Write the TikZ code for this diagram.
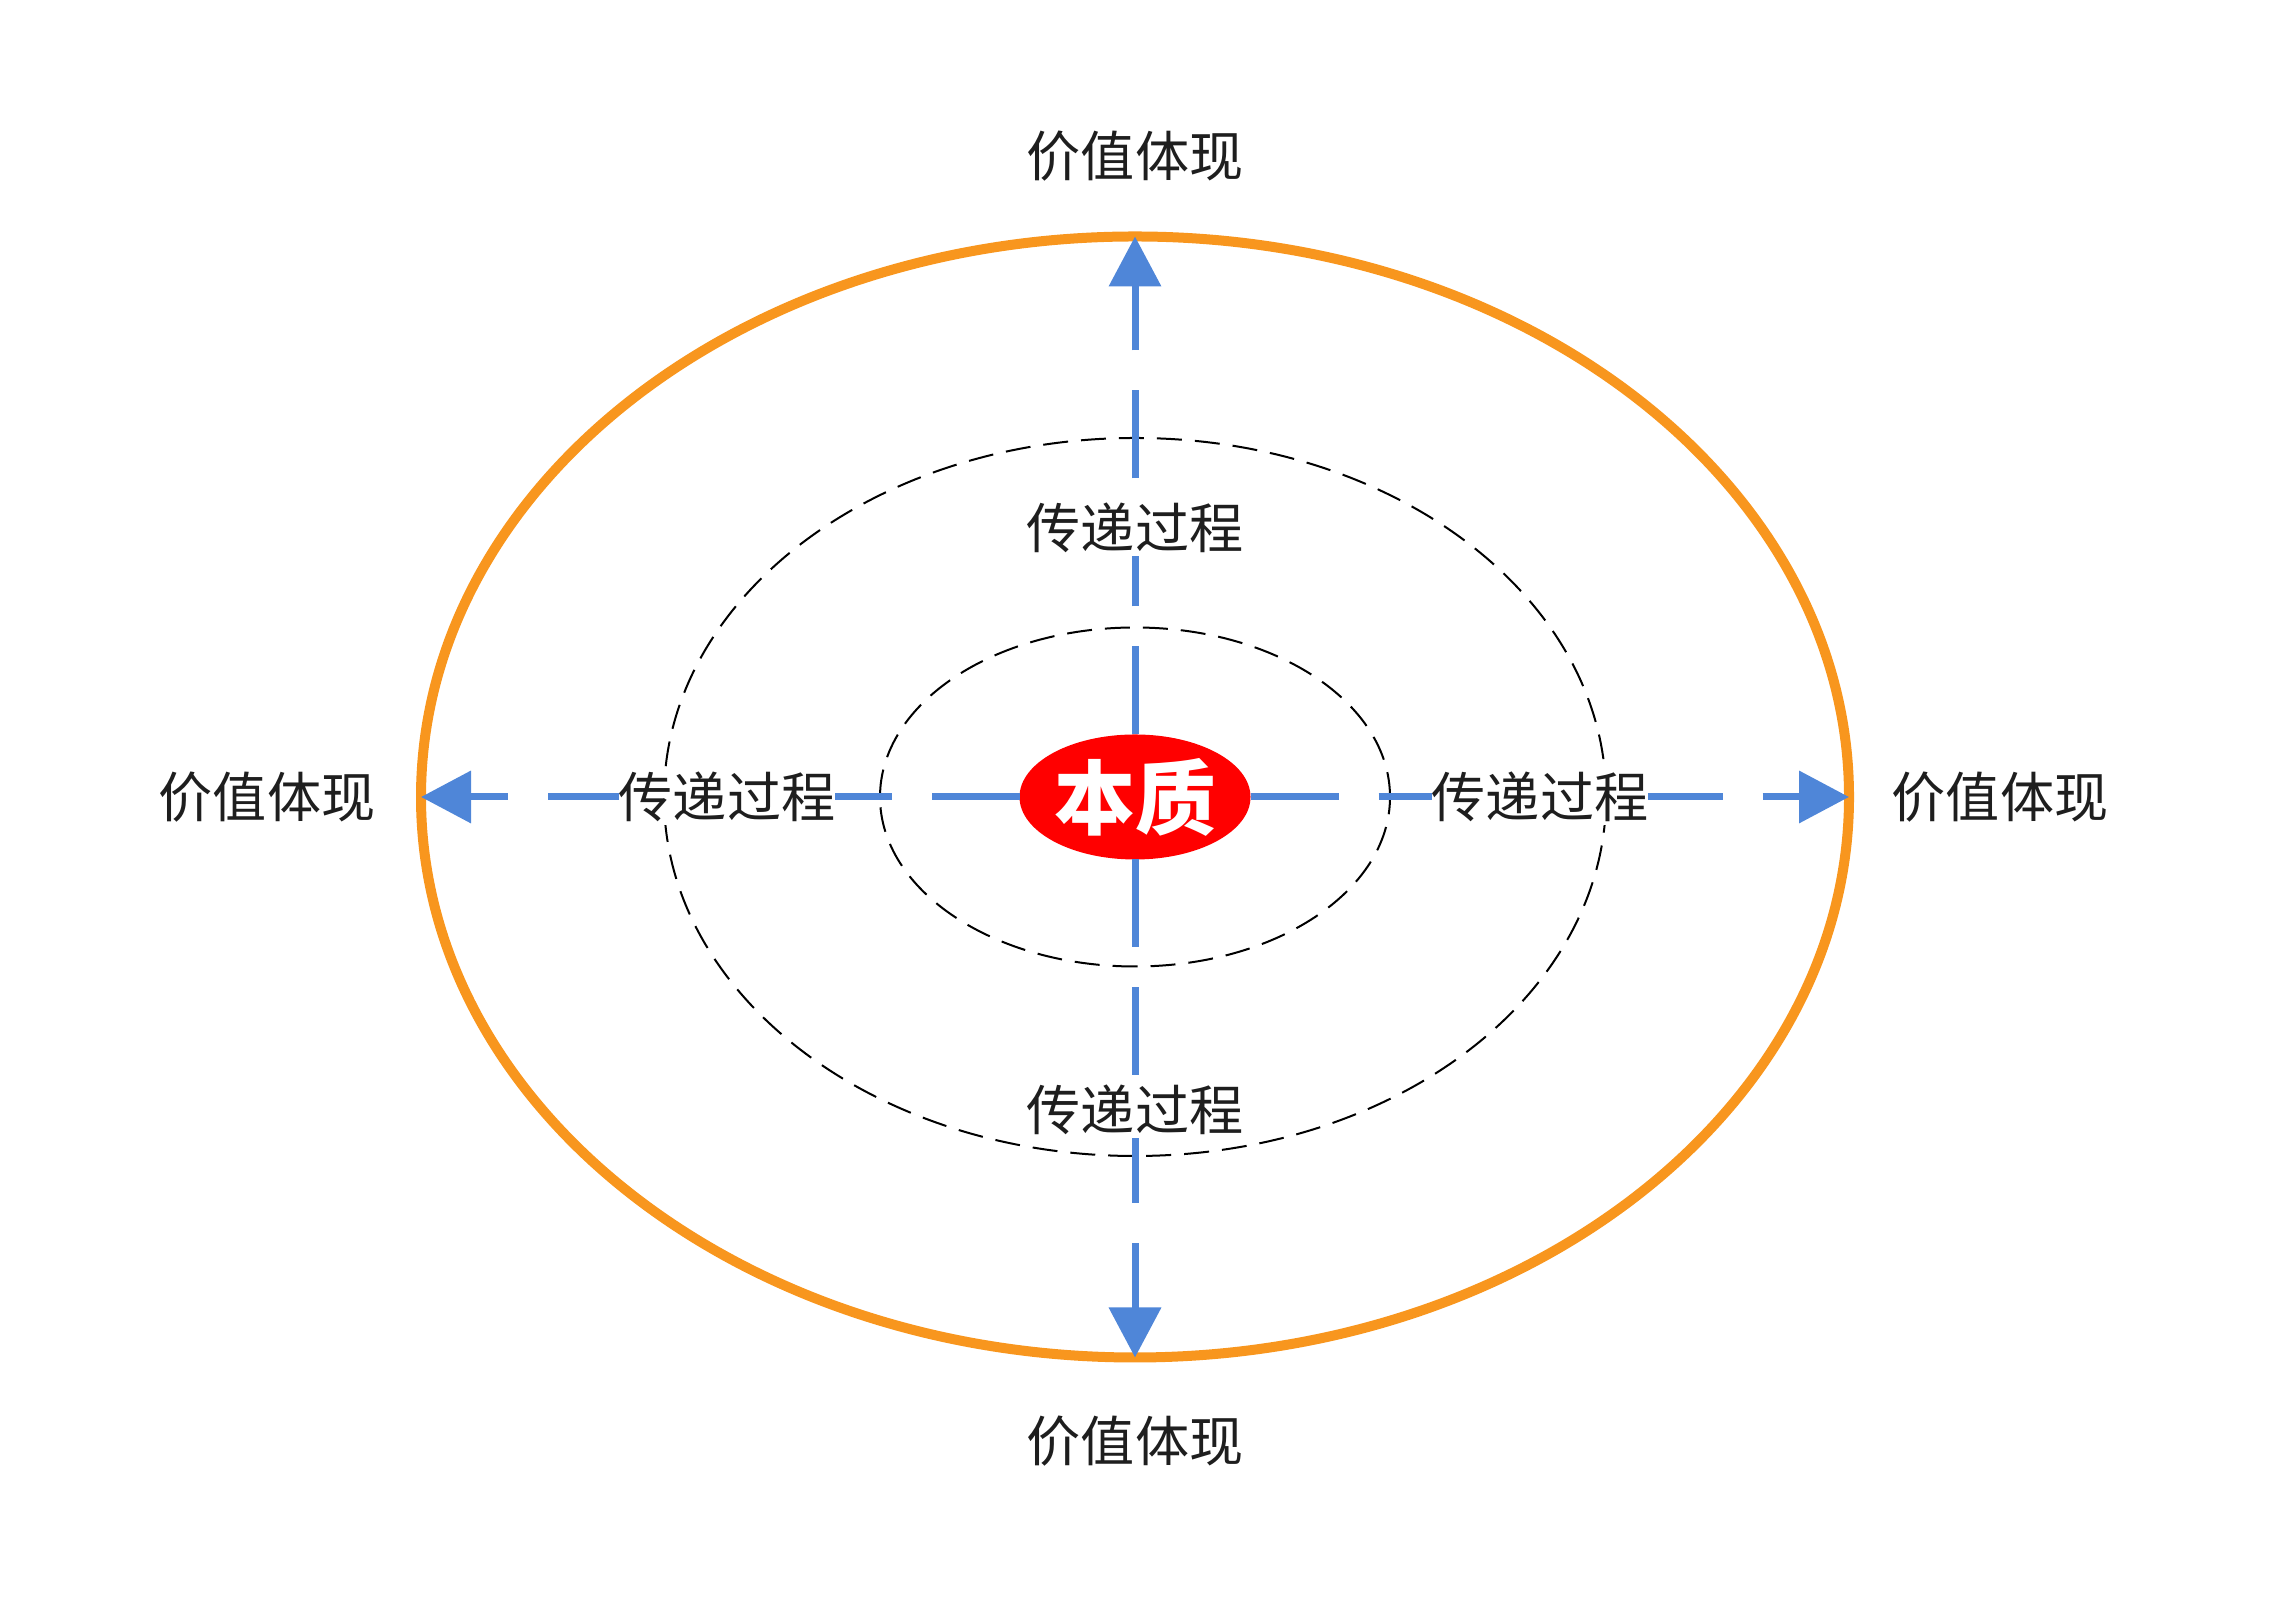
\documentclass[tikz,border=0pt]{standalone}
\usepackage{fontspec}
\usetikzlibrary{positioning,arrows.meta,shapes.geometric}
\newfontfamily\cjk{Noto Sans CJK SC}
\definecolor{ringorange}{RGB}{248,150,30}
\definecolor{flowblue}{RGB}{79,134,216}
\definecolor{corered}{RGB}{255,0,0}
\definecolor{labelgray}{RGB}{30,30,30}
\tikzset{
  flow/.style={line width=0.07cm, color=flowblue, dash pattern=on 0.88cm off 0.40cm,
    -{Triangle[length=0.5cm,width=0.51cm]}},
  layer/.style={line width=0.02cm, black, dash pattern=on 0.25cm off 0.13cm},
  stage/.style={fill=white, inner xsep=0pt, inner ysep=0.03cm, text=labelgray,
    font=\cjk\fontsize{15.4}{18}\selectfont},
  value/.style={text=labelgray, font=\cjk\fontsize{15.4}{18}\selectfont},
}

\begin{document}
\begin{tikzpicture}
      \useasboundingbox (0,0) rectangle (22.9,16);
      \coordinate (o) at (11.35,8.03);
      %% outer ring and the two dashed layers
      \draw[ringorange, line width=0.1cm] (o) ellipse [x radius=7.14, y radius=5.605];
      \draw[layer] (o) ellipse [x radius=4.71, y radius=3.59];
      \draw[layer] (o) ellipse [x radius=2.55, y radius=1.695];
      %% arrow ends on the outer ring
      \coordinate (ringN) at ([yshift=5.605cm]o);
      \coordinate (ringS) at ([yshift=-5.605cm]o);
      \coordinate (ringE) at ([xshift=7.14cm]o);
      \coordinate (ringW) at ([xshift=-7.14cm]o);
      %% core
      \node[ellipse, fill=corered, minimum width=2.31cm, minimum height=1.25cm,
        inner sep=0pt, outer sep=0pt, text=white, font=\cjk\bfseries\fontsize{23}{26}\selectfont]
        (core) at (o) {本质};
      \draw[flow] (core.north) -- (ringN);
      \draw[flow] (core.south) -- (ringS);
      \draw[flow] (core.east) -- (ringE);
      \draw[flow] (core.west) -- (ringW);
      %% labels on the layers
      \node[stage] (stageN) at ([yshift=2.69cm]o) {传递过程};
      \node[stage] (stageS) at ([yshift=-3.13cm]o) {传递过程};
      \node[stage] (stageW) at ([xshift=-4.08cm]o) {传递过程};
      \node[stage] (stageE) at ([xshift=4.05cm]o) {传递过程};
      %% labels outside the ring
      \node[value] (valueN) at ([yshift=6.41cm]o) {价值体现};
      \node[value] (valueS) at ([yshift=-6.44cm]o) {价值体现};
      \node[value] (valueW) at ([xshift=-8.68cm]o) {价值体现};
      \node[value] (valueE) at ([xshift=8.65cm]o) {价值体现};
\end{tikzpicture}
\end{document}
